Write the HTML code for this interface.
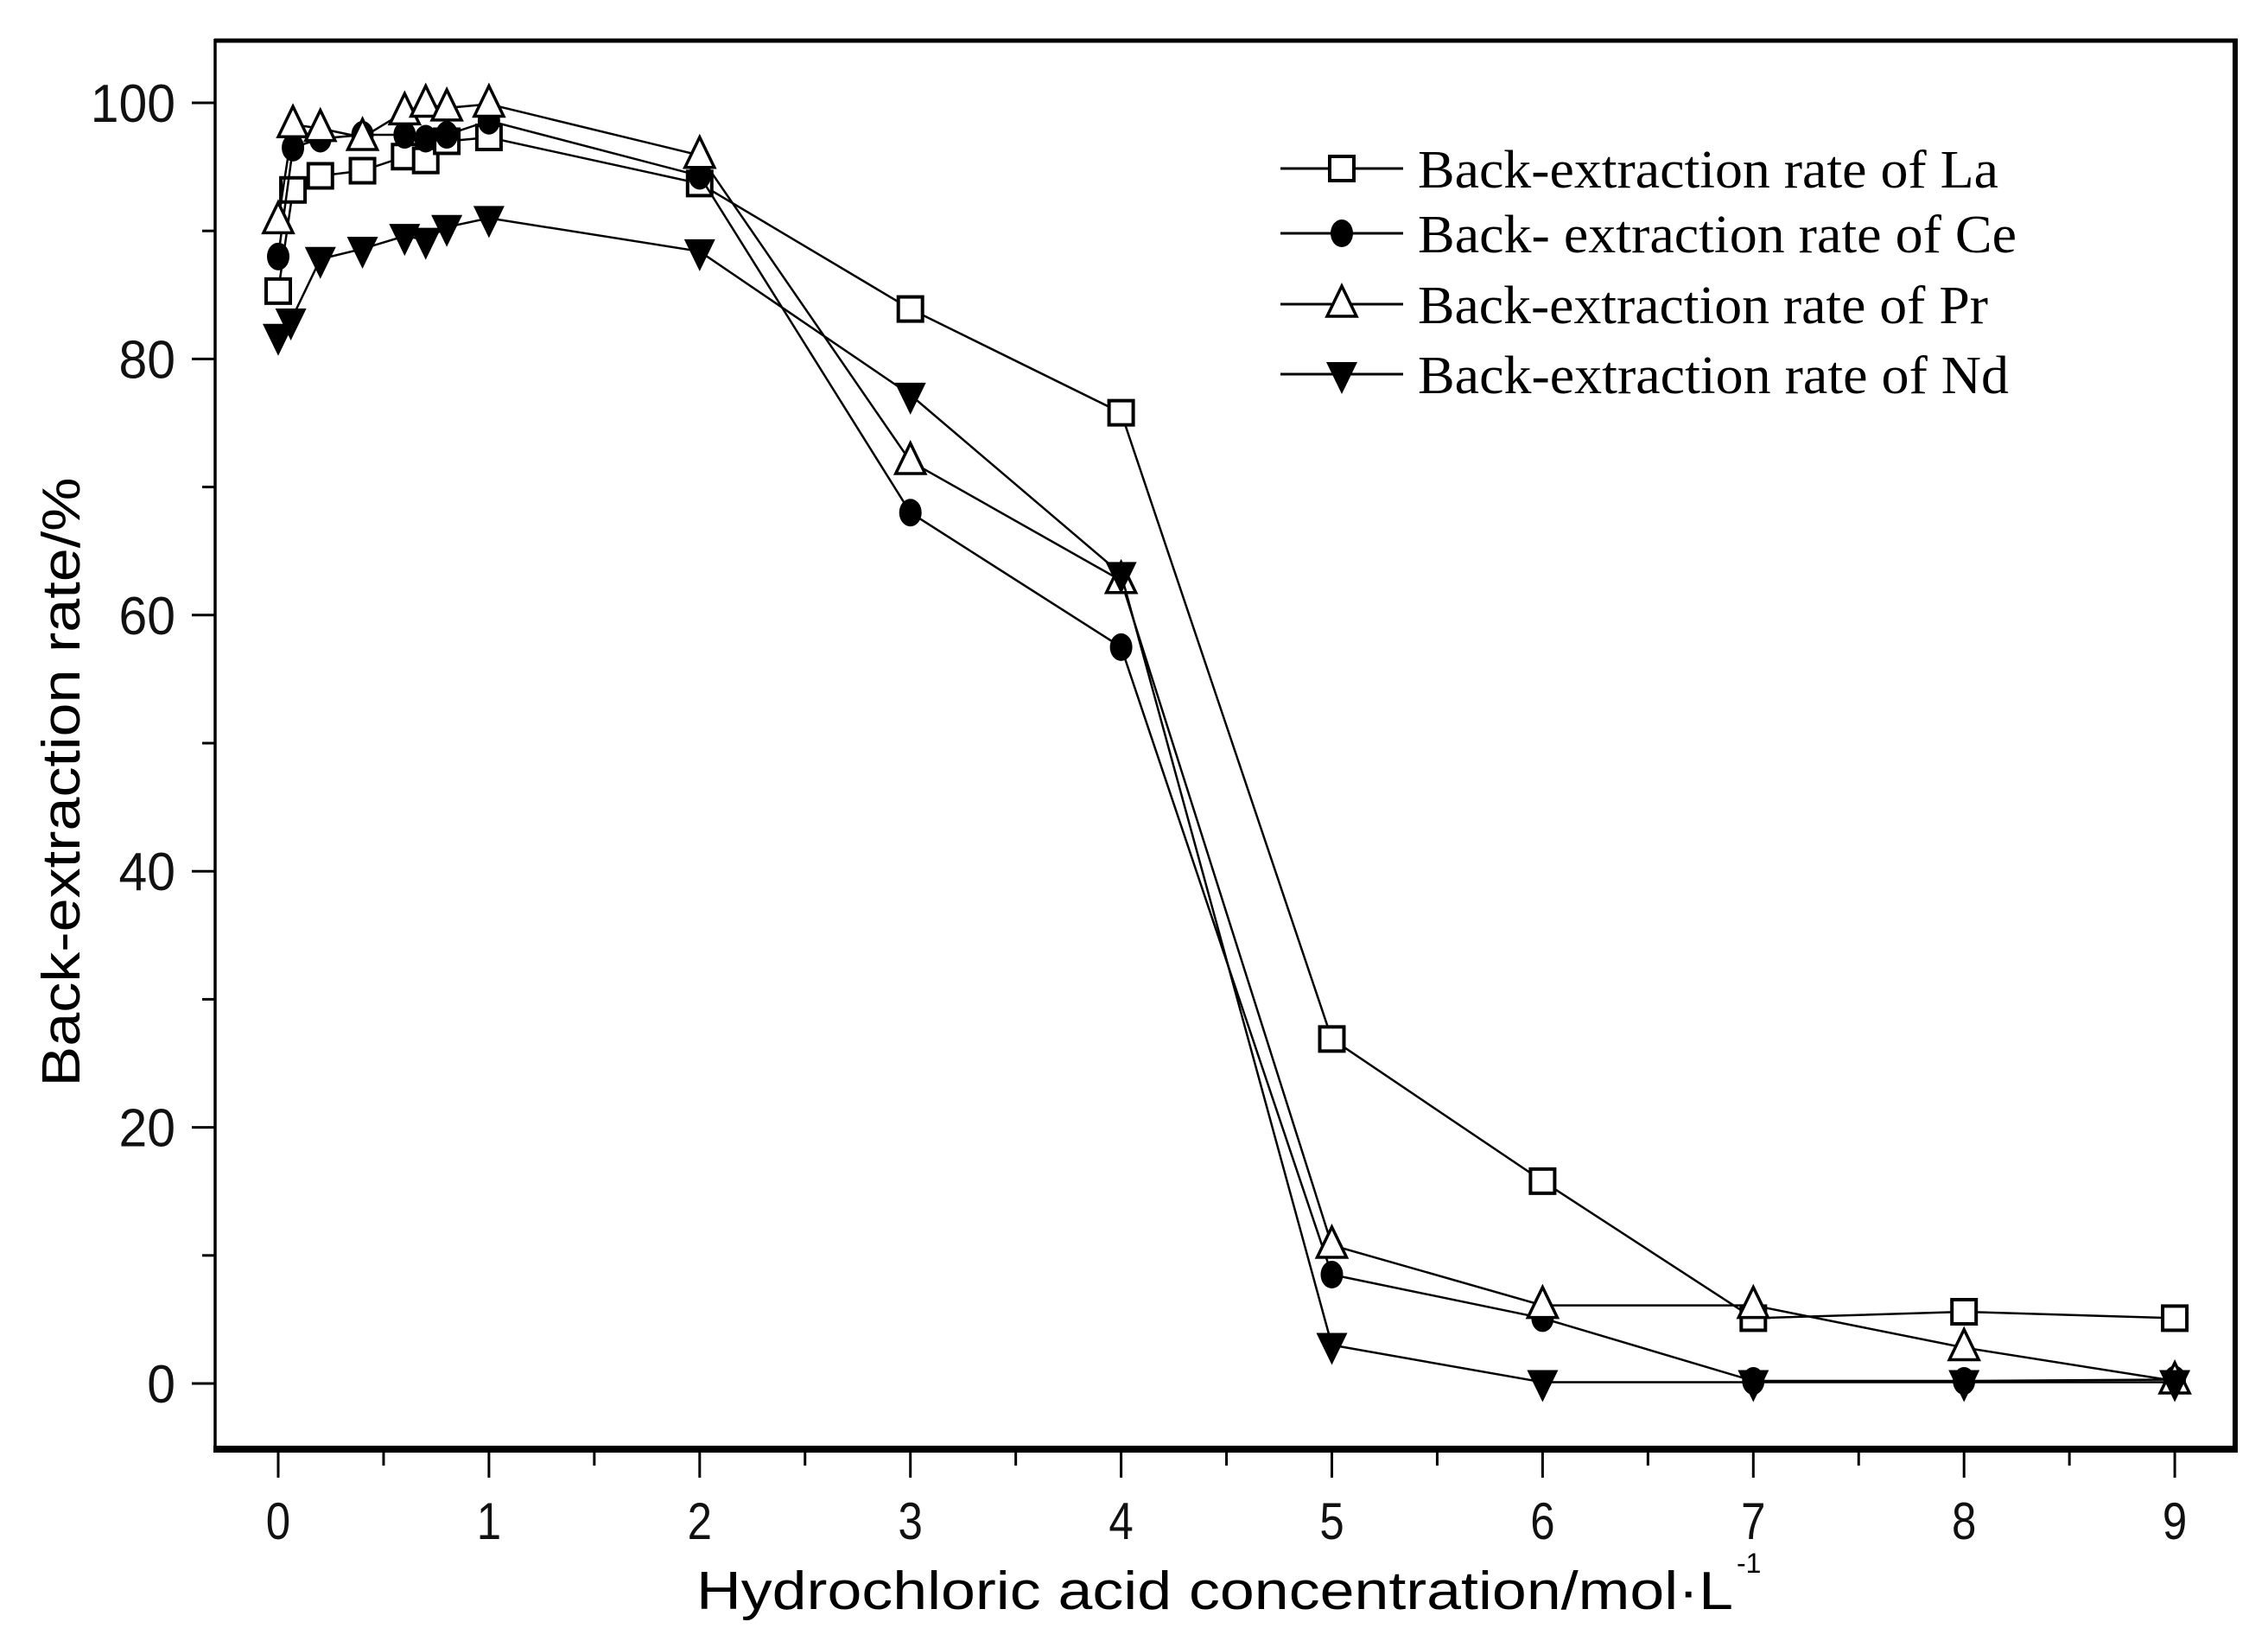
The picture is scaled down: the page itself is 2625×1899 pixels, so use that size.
<!DOCTYPE html>
<html><head><meta charset="utf-8"><style>
html,body{margin:0;padding:0;background:#fff;}
svg{display:block;}
</style></head><body>
<svg id="chart" width="2625" height="1899" viewBox="0 0 2625 1899" xmlns="http://www.w3.org/2000/svg">
<rect x="0" y="0" width="2625" height="1899" fill="#fff"/>
<g id="marks"></g>
<g id="axes"></g>
</svg>
<script>
const xValues = [0, 0.07, 0.2, 0.4, 0.6, 0.7, 0.8, 1, 2, 3, 4, 5, 6, 7, 8, 9];
const laValues = [85.3, 93.2, 94.3, 94.7, 95.8, 95.5, 97.0, 97.3, 93.7, 83.9, 75.8, 26.9, 15.8, 5.1, 5.6, 5.1];
const ceValues = [88.0, 96.5, 97.2, 97.5, 97.5, 97.2, 97.5, 98.6, 94.3, 68.0, 57.5, 8.5, 5.1, 0.2, 0.2, 0.3];
const prValues = [90.8, 98.3, 98.0, 97.3, 99.3, 99.9, 99.6, 99.9, 95.9, 72.0, 62.7, 10.8, 6.1, 6.1, 2.8, 0.2];
const ndXValues = [0, 0.06, 0.2, 0.4, 0.6, 0.7, 0.8, 1, 2, 3, 4, 5, 6, 7, 8, 9];
const ndValues = [81.8, 83.0, 87.8, 88.6, 89.6, 89.3, 90.3, 91.0, 88.4, 77.2, 63.2, 3.0, 0.1, 0.1, 0.1, 0.1];
const xTickLabels = ["0","1","2","3","4","5","6","7","8","9"];
const yTickLabels = ["0","20","40","60","80","100"];
const seriesNames = ["Back-extraction rate of La","Back- extraction rate of Ce","Back-extraction rate of Pr","Back-extraction rate of Nd"];

const NS = "http://www.w3.org/2000/svg";
const X0 = 322, XU = 243.9;
const Y0 = 1601, YU = 14.82;
const sx = v => X0 + v * XU;
const sy = v => Y0 - v * YU;
const marks = document.getElementById('marks');
const axes = document.getElementById('axes');
function mk(tag, attrs, parent){
  const e = document.createElementNS(NS, tag);
  for (const k in attrs) e.setAttribute(k, attrs[k]);
  parent.appendChild(e);
  return e;
}
function marker(type, cx, cy, parent){
  const s = 16;
  let e;
  if (type === 'square') e = mk('rect', {x:cx-s+2, y:cy-s+2, width:2*s-4, height:2*s-4, fill:'#fff', stroke:'#000', 'stroke-width':4}, parent);
  else if (type === 'circle') e = mk('ellipse', {cx:cx, cy:cy, rx:s-3, ry:s, fill:'#000'}, parent);
  else if (type === 'up') e = mk('polygon', {points:`${cx},${cy-s-5} ${cx-s-1},${cy+s-2} ${cx+s+1},${cy+s-2}`, fill:'#fff', stroke:'#000', 'stroke-width':3.5}, parent);
  else e = mk('polygon', {points:`${cx-s-2},${cy-s+2} ${cx+s+2},${cy-s+2} ${cx},${cy+s+7}`, fill:'#000'}, parent);
  return e;
}
const series = [
  {name:'la', xs:xValues, ys:laValues, m:'square'},
  {name:'ce', xs:xValues, ys:ceValues, m:'circle'},
  {name:'pr', xs:xValues, ys:prValues, m:'up'},
  {name:'nd', xs:ndXValues, ys:ndValues, m:'down'}
];
series.forEach(s => {
  const g = mk('g', {}, marks);
  
  
  const pts = s.ys.map((v,i) => sx(s.xs[i]) + ',' + sy(v)).join(' ');
  const line = mk('polyline', {points:pts, fill:'none', stroke:'#000', 'stroke-width':2.5}, g);
  
  
  s.ys.forEach((v,i) => {
    const m = marker(s.m, sx(s.xs[i]), sy(v), g);
    
    
  });
});
const frame = mk('g', {}, axes);


mk('line', {x1:248, y1:47, x2:2590, y2:47, stroke:'#000', 'stroke-width':5}, frame);
mk('line', {x1:2587, y1:45, x2:2587, y2:1681, stroke:'#000', 'stroke-width':6}, frame);
mk('line', {x1:249, y1:45, x2:249, y2:1681, stroke:'#000', 'stroke-width':3.5}, frame);
mk('line', {x1:247, y1:1677, x2:2590, y2:1677, stroke:'#000', 'stroke-width':8}, frame);
for (let v = 0; v <= 9.01; v += 0.5) {
  const major = Math.abs(v - Math.round(v)) < 0.01;
  const t = mk('line', {x1:sx(v), y1:1680, x2:sx(v), y2:major?1710:1696, stroke:'#000', 'stroke-width':3}, axes);
  
  
}
xTickLabels.forEach(lab => {
  const t = mk('text', {x:sx(+lab), y:1781, 'text-anchor':'middle', 'font-family':'Liberation Sans, sans-serif', 'font-size':60, fill:'#111', transform:`translate(${sx(+lab)},0) scale(0.85,1) translate(${-sx(+lab)},0)`}, axes);
  t.textContent = lab;
  
  
});
for (let v = 0; v <= 100; v += 10) {
  const major = v % 20 === 0;
  const t = mk('line', {x1:major?222:234, y1:sy(v), x2:249, y2:sy(v), stroke:'#000', 'stroke-width':3}, axes);
  
  
}
yTickLabels.forEach(lab => {
  const t = mk('text', {x:203, y:sy(+lab)+22, 'text-anchor':'end', 'font-family':'Liberation Sans, sans-serif', 'font-size':62, fill:'#111', transform:`translate(203,0) scale(0.95,1) translate(-203,0)`}, axes);
  t.textContent = lab;
  
  
});
const xt = mk('text', {x:806, y:1862, 'font-family':'Liberation Sans, sans-serif', 'font-size':62, fill:'#000', textLength:1200, lengthAdjust:'spacingAndGlyphs'}, axes);
xt.textContent = 'Hydrochloric acid concentration/mol·L';


const sup = mk('text', {x:2010, y:1820, 'font-family':'Liberation Sans, sans-serif', 'font-size':32, fill:'#000'}, axes);
sup.textContent = '-1';


const yt = mk('text', {x:0, y:0, 'font-family':'Liberation Sans, sans-serif', 'font-size':62, fill:'#000', 'text-anchor':'middle', textLength:705, lengthAdjust:'spacingAndGlyphs', transform:'translate(92,905) rotate(-90)'}, axes);
yt.textContent = 'Back-extraction rate/%';


const legend = mk('g', {}, axes);


const legY = [195, 270, 352, 433];
const legM = ['square','circle','up','down'];
seriesNames.forEach((nm,i) => {
  const g = mk('g', {}, legend);
  
  
  mk('line', {x1:1482, y1:legY[i], x2:1624, y2:legY[i], stroke:'#000', 'stroke-width':3}, g);
  marker(legM[i], 1553, legY[i], g);
  const t = mk('text', {x:1641, y:legY[i]+22, 'font-family':'Liberation Serif, serif', 'font-size':62, fill:'#000', textLength:[672,693,660,684][i], lengthAdjust:'spacingAndGlyphs'}, g);
  t.textContent = nm;
});
</script>
</body></html>
